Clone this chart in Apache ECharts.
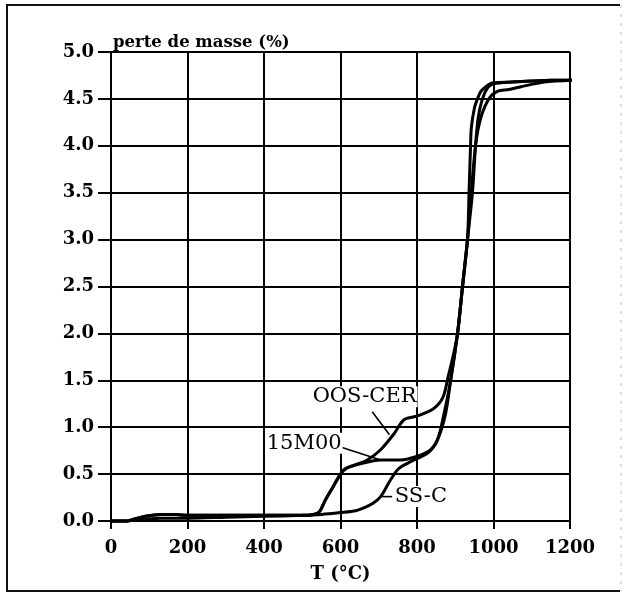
<!DOCTYPE html>
<html>
<head>
<meta charset="utf-8">
<script src="https://cdn.jsdelivr.net/npm/echarts@6/dist/echarts.min.js"></script>
<style>html,body{margin:0;padding:0;background:#fff}#c{width:624px;height:594px}</style>
</head>
<body>
<div id="c"></div>
<script>
// ---- data ----
const xTicks = [0, 200, 400, 600, 800, 1000, 1200];
const yTicks = [0.0, 0.5, 1.0, 1.5, 2.0, 2.5, 3.0, 3.5, 4.0, 4.5, 5.0];

const tOOS = [0, 40, 60, 90, 130, 170, 200, 300, 400, 500, 530, 545, 560, 580, 600, 615, 640, 670, 705, 740, 766, 801, 844, 868, 882, 894, 906, 919, 932, 936, 940, 942, 950, 958, 967, 980, 997, 1050, 1100, 1150, 1215];
const vOOS = [0, 0, 0.02, 0.05, 0.07, 0.07, 0.06, 0.06, 0.06, 0.06, 0.07, 0.1, 0.22, 0.36, 0.5, 0.56, 0.6, 0.65, 0.76, 0.93, 1.08, 1.12, 1.2, 1.32, 1.55, 1.75, 2.0, 2.5, 3.0, 3.5, 4.0, 4.19, 4.4, 4.5, 4.58, 4.63, 4.67, 4.68, 4.69, 4.7, 4.7];

const t15M = [0, 40, 60, 90, 130, 170, 200, 300, 400, 500, 530, 545, 560, 580, 600, 613, 652, 705, 757, 801, 836, 857, 875, 888, 906, 919, 932, 945, 953, 960, 971, 985, 1000, 1050, 1100, 1150, 1215];
const v15M = [0, 0, 0.02, 0.05, 0.07, 0.07, 0.06, 0.06, 0.06, 0.06, 0.07, 0.1, 0.22, 0.36, 0.5, 0.56, 0.61, 0.65, 0.65, 0.69, 0.76, 0.9, 1.15, 1.5, 2.0, 2.5, 3.0, 3.5, 4.0, 4.3, 4.5, 4.62, 4.66, 4.68, 4.69, 4.7, 4.7];

const tSSC = [0, 40, 60, 90, 130, 200, 300, 400, 500, 550, 600, 640, 661, 685, 705, 731, 753, 792, 827, 853, 871, 888, 906, 919, 932, 942, 953, 967, 988, 1010, 1040, 1072, 1133, 1215];
const vSSC = [0, 0, 0.01, 0.02, 0.03, 0.03, 0.04, 0.05, 0.06, 0.07, 0.09, 0.11, 0.14, 0.19, 0.26, 0.44, 0.56, 0.65, 0.72, 0.86, 1.15, 1.5, 2.0, 2.5, 3.0, 3.5, 4.0, 4.3, 4.5, 4.58, 4.6, 4.63, 4.68, 4.7];

// annotation labels (data coordinates) and leader lines
const labelNames = ['OOS-CER', '15M00', 'SS-C'];
const labelPos = [[663, 1.325], [505, 0.83], [810, 0.26]];
const leaderOOS = [[683, 1.165], [728, 0.92]];
const leader15M = [[600, 0.79], [705, 0.65]];
const leaderSSC = [[709, 0.26], [735, 0.26]];

const zip = (a, b) => a.map((x, i) => [x, b[i]]);
const serif = 'DejaVu Serif';

const curve = (name, d) => ({
  name, type: 'line', data: d, showSymbol: false, clip: false,
  smooth: 0.3,
  lineStyle: { color: '#000', width: 3 }, silent: true, z: 5
});
const leader = (d) => ({
  type: 'line', data: d, showSymbol: false, clip: false,
  lineStyle: { color: '#000', width: 1.6 }, silent: true, z: 6
});

const chart = echarts.init(document.getElementById('c'), null, { renderer: 'canvas' });
chart.setOption({
  animation: false,
  backgroundColor: '#fff',
  title: {
    text: 'perte de masse (%)',
    left: 108, top: 29,
    textStyle: { fontFamily: serif, fontWeight: 'bold', fontSize: 16.5, color: '#000' }
  },
  grid: { left: 111, right: 54, top: 52, bottom: 73 },
  xAxis: {
    type: 'value', min: 0, max: 1200, interval: 200,
    name: 'T (°C)', nameLocation: 'middle', nameGap: 44,
    nameTextStyle: { fontFamily: serif, fontWeight: 'bold', fontSize: 18, color: '#000' },
    axisLine: { show: true, lineStyle: { color: '#000', width: 2 } },
    axisTick: { show: true, length: 8, lineStyle: { color: '#000', width: 2 } },
    axisLabel: {
      margin: 18, fontFamily: serif, fontWeight: 'bold', fontSize: 18, color: '#000',
      customValues: xTicks, formatter: v => String(v)
    },
    splitLine: { show: true, lineStyle: { color: '#000', width: 2 } }
  },
  yAxis: {
    type: 'value', min: 0, max: 5, interval: 0.5,
    axisLine: { show: true, lineStyle: { color: '#000', width: 2 } },
    axisTick: { show: true, length: 13, lineStyle: { color: '#000', width: 2 } },
    axisLabel: {
      margin: 17, fontFamily: serif, fontWeight: 'bold', fontSize: 18, color: '#000',
      customValues: yTicks, formatter: v => v.toFixed(1)
    },
    splitLine: { show: true, lineStyle: { color: '#000', width: 2 } }
  },
  graphic: [
    { type: 'polyline', shape: { points: [[620, 5], [7, 5], [7, 591], [620, 591]] },
      style: { stroke: '#111', lineWidth: 2, fill: null }, silent: true },
    { type: 'line', shape: { x1: 621, y1: 5, x2: 621, y2: 591 },
      style: { stroke: '#bbb', lineWidth: 1, lineDash: [3, 6] }, silent: true }
  ],
  series: [
    curve('OOS-CER', zip(tOOS, vOOS)),
    curve('15M00', zip(t15M, v15M)),
    curve('SS-C', zip(tSSC, vSSC)),
    leader(leaderOOS), leader(leader15M), leader(leaderSSC),
    {
      type: 'scatter', silent: true, z: 7, symbolSize: 0, clip: false,
      itemStyle: { color: '#000', opacity: 1 },
      data: labelPos.map((p, i) => ({ value: p, name: labelNames[i] })),
      label: {
        show: true, position: 'inside', formatter: p => p.name, opacity: 1,
        fontFamily: serif, fontSize: 21, color: '#000', backgroundColor: '#fff', padding: [0, 1]
      }
    }
  ]
});
</script>
</body>
</html>
